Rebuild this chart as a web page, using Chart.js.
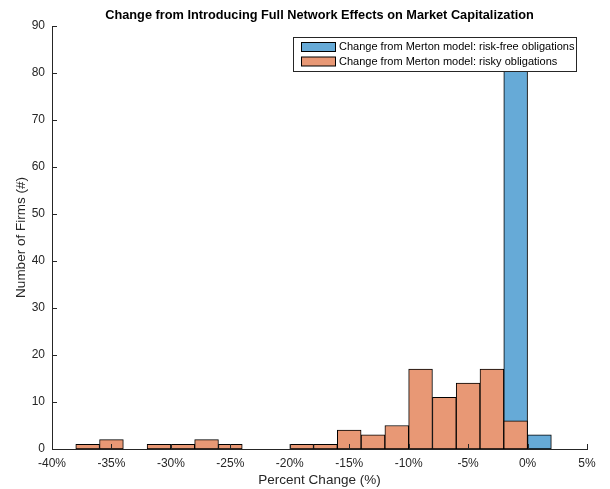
<!DOCTYPE html>
<html>
<head>
<meta charset="utf-8">
<script src="https://cdn.jsdelivr.net/npm/chart.js@4"></script>
<style>
  html, body { margin: 0; padding: 0; background: #fff; }
  #wrap { width: 610px; height: 489px; }
</style>
</head>
<body>
<div id="wrap"><canvas id="histChart" width="610" height="489"></canvas></div>
<script>
// bin centres (percent), bins are 2% wide from -38% to +2%
const binCenters = [-37, -35, -33, -31, -29, -27, -25, -23, -21, -19, -17, -15, -13, -11, -9, -7, -5, -3, -1, 1];
const riskFreeCounts = [0, 0, 0, 0, 0, 0, 0, 0, 0, 0, 0, 0, 0, 0, 0, 0, 0, 0, 86, 3];
const riskyCounts = [1, 2, 0, 1, 1, 2, 1, 0, 0, 1, 1, 4, 3, 5, 17, 11, 14, 17, 6, 0];
const xTicks = [-40, -35, -30, -25, -20, -15, -10, -5, 0, 5];
const yTicks = [0, 10, 20, 30, 40, 50, 60, 70, 80, 90];

const seriesNames = [
    'Change from Merton model: risk-free obligations',
    'Change from Merton model: risky obligations'
];
const axisColor = '#262626';
const font = 'Liberation Sans, Arial, Helvetica, sans-serif';

// inward tick marks + legend inside the axes, MATLAB style
const matlabBits = {
    id: 'matlabBits',
    afterDraw(chart) {
        const ctx = chart.ctx;
        const x = chart.scales.x, y = chart.scales.y;
        const area = chart.chartArea;
        ctx.save();
        ctx.strokeStyle = axisColor;
        ctx.lineWidth = 1;
        ctx.beginPath();
        xTicks.forEach(v => {
            const px = Math.round(x.getPixelForValue(v)) + 0.5;
            ctx.moveTo(px, area.bottom);
            ctx.lineTo(px, area.bottom - 5);
        });
        yTicks.forEach(v => {
            const py = Math.round(y.getPixelForValue(v)) + 0.5;
            ctx.moveTo(area.left, py);
            ctx.lineTo(area.left + 5, py);
        });
        ctx.stroke();

        // legend box
        const lx = 293.5, ly = 37.5, lw = 283, lh = 34;
        ctx.fillStyle = '#fff';
        ctx.fillRect(lx, ly, lw, lh);
        ctx.strokeStyle = axisColor;
        ctx.strokeRect(lx, ly, lw, lh);
        ctx.font = '11px ' + font;
        ctx.textBaseline = 'middle';
        ctx.textAlign = 'left';
        chart.data.datasets.forEach((ds, i) => {
            const cy = 47 + i * 14.5;
            ctx.fillStyle = ds.backgroundColor;
            ctx.fillRect(301, cy - 4.5, 35, 9);
            ctx.strokeStyle = '#000';
            ctx.strokeRect(301.5, cy - 4.5, 34, 9);
            ctx.fillStyle = '#000';
            ctx.fillText(ds.label, 339, cy);
        });
        ctx.restore();
    }
};

const ctx = document.getElementById('histChart').getContext('2d');
new Chart(ctx, {
    type: 'bar',
    data: {
        datasets: [
            {
                label: seriesNames[0],
                data: binCenters.map((c, i) => ({ x: c, y: riskFreeCounts[i] })),
                backgroundColor: 'rgb(102,170,215)',
                borderColor: '#000',
                borderWidth: 1,
                borderSkipped: false,
                grouped: false,
                order: 1
            },
            {
                label: seriesNames[1],
                data: binCenters.map((c, i) => ({ x: c, y: riskyCounts[i] })),
                backgroundColor: 'rgb(232,152,117)',
                borderColor: '#000',
                borderWidth: 1,
                borderSkipped: false,
                grouped: false,
                order: 0
            }
        ]
    },
    options: {
        responsive: false,
        animation: false,
        devicePixelRatio: 1,
        layout: { padding: { left: 0, right: 23, top: 26, bottom: 0 } },
        datasets: { bar: { categoryPercentage: 1, barPercentage: 1 } },
        plugins: {
            legend: { display: false },
            tooltip: { enabled: false },
            title: { display: false }
        },
        scales: {
            x: {
                type: 'linear',
                min: -40,
                max: 5,
                offset: false,
                grid: { display: false, drawTicks: false },
                border: { display: true, color: axisColor },
                afterBuildTicks: s => { s.ticks = xTicks.map(v => ({ value: v })); },
                afterFit: s => { s.height = 40; },
                ticks: {
                    color: axisColor,
                    padding: 7,
                    maxRotation: 0,
                    font: { family: font, size: 12 },
                    callback: v => v + '%'
                },
                title: {
                    display: true,
                    text: 'Percent Change (%)',
                    color: axisColor,
                    font: { family: font, size: 13.5 },
                    padding: { top: 0, bottom: 1 }
                }
            },
            y: {
                min: 0,
                max: 90,
                grid: { display: false, drawTicks: false },
                border: { display: true, color: axisColor },
                afterBuildTicks: s => { s.ticks = yTicks.map(v => ({ value: v })); },
                afterFit: s => { s.width = 52; },
                ticks: {
                    color: axisColor,
                    padding: 7,
                    font: { family: font, size: 12 }
                },
                title: {
                    display: true,
                    text: 'Number of Firms (#)',
                    color: axisColor,
                    font: { family: font, size: 13.5 },
                    padding: { top: 13, bottom: 0 }
                }
            }
        }
    },
    plugins: [matlabBits, {
        id: 'topTitle',
        afterDraw(chart) {
            const c = chart.ctx;
            const area = chart.chartArea;
            c.save();
            c.font = 'bold 12.75px ' + font;
            c.fillStyle = '#000';
            c.textAlign = 'center';
            c.textBaseline = 'middle';
            c.fillText('Change from Introducing Full Network Effects on Market Capitalization', (area.left + area.right) / 2, 15);
            c.restore();
        }
    }]
});
</script>
</body>
</html>
